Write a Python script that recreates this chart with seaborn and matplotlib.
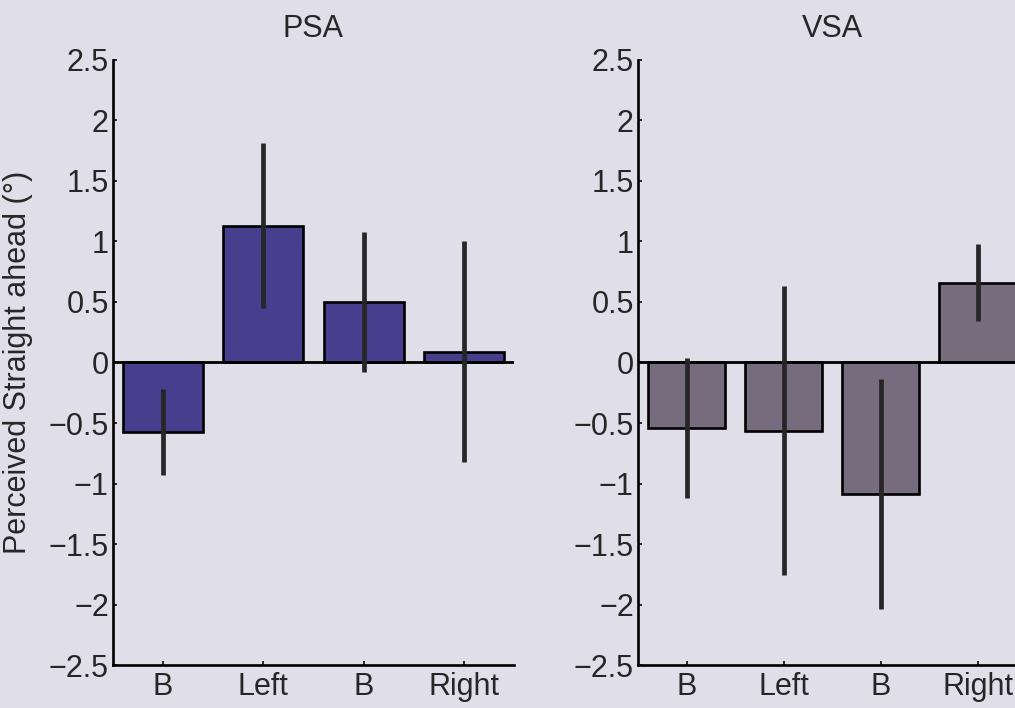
import numpy as np
import pandas as pd
import matplotlib
matplotlib.use("Agg")
import matplotlib.pyplot as plt
import seaborn as sns

# Conditions in presentation order and the labels printed under them
conditions = ["B1", "Left", "B2", "Right"]
tick_labels = ["B", "Left", "B", "Right"]

# Perceived straight ahead (deg): means and error half-widths
psa_mean = [-0.575, 1.13, 0.50, 0.09]
psa_err = [0.355, 0.68, 0.58, 0.91]
vsa_mean = [-0.54, -0.565, -1.09, 0.66]
vsa_err = [0.58, 1.195, 0.95, 0.32]

panel_titles = ["PSA", "VSA"]
y_ticks = [-2.5, -2, -1.5, -1, -0.5, 0, 0.5, 1, 1.5, 2, 2.5]
y_label = "Perceived Straight ahead (°)"

bg = "#dfdee9"
ink = "#262626"
bar_colors = ["#483e8e", "#776c7e"]
font_size = 22

sns.set_theme(style="ticks")
plt.rcParams["font.family"] = ["Liberation Sans", "DejaVu Sans"]
plt.rcParams["axes.unicode_minus"] = True

fig = plt.figure(figsize=(10.15, 7.08), dpi=100, facecolor=bg)
ax_psa = fig.add_axes([0.1113, 0.0607, 0.3951, 0.8546])
ax_vsa = fig.add_axes([0.6286, 0.0607, 0.3823, 0.8546])

panels = [
    (ax_psa, psa_mean, psa_err, bar_colors[0], panel_titles[0]),
    (ax_vsa, vsa_mean, vsa_err, bar_colors[1], panel_titles[1]),
]

for ax, mean, err, color, title in panels:
    df = pd.DataFrame({"condition": conditions, "value": mean})
    ax.set_facecolor("none")
    sns.barplot(data=df, x="condition", y="value", order=conditions,
                color=color, saturation=1, width=0.8, edgecolor="black",
                linewidth=1.9, errorbar=None, ax=ax, zorder=2)
    ax.errorbar(np.arange(len(conditions)), mean, yerr=err, fmt="none",
                ecolor=ink, elinewidth=3.4, capsize=0, zorder=4)
    ax.axhline(0, color="black", lw=2.0, zorder=3)

    ax.set_xlim(-0.5, len(conditions) - 0.5)
    ax.set_ylim(-2.5, 2.5)
    ax.set_yticks(y_ticks)
    ax.set_yticklabels([f"{t:g}".replace("-", "\u2212") for t in y_ticks])
    ax.set_xticks(np.arange(len(conditions)))
    ax.set_xticklabels(tick_labels)
    ax.set_xlabel("")
    ax.set_ylabel("")

    for side in ("top", "right"):
        ax.spines[side].set_visible(False)
    for side in ("left", "bottom"):
        ax.spines[side].set_linewidth(1.9)
        ax.spines[side].set_color("black")

    ax.tick_params(axis="both", direction="in", length=3, width=1.4,
                   colors=ink, labelsize=font_size)
    ax.tick_params(axis="y", pad=3)
    ax.tick_params(axis="x", pad=5)
    ax.set_title(title, fontsize=font_size, color=ink, pad=16.5)

ax_psa.set_ylabel(y_label, fontsize=font_size, color=ink)
ax_psa.yaxis.set_label_coords(-0.2, 0.5)

fig.savefig("out.png", dpi=100, facecolor=bg)
